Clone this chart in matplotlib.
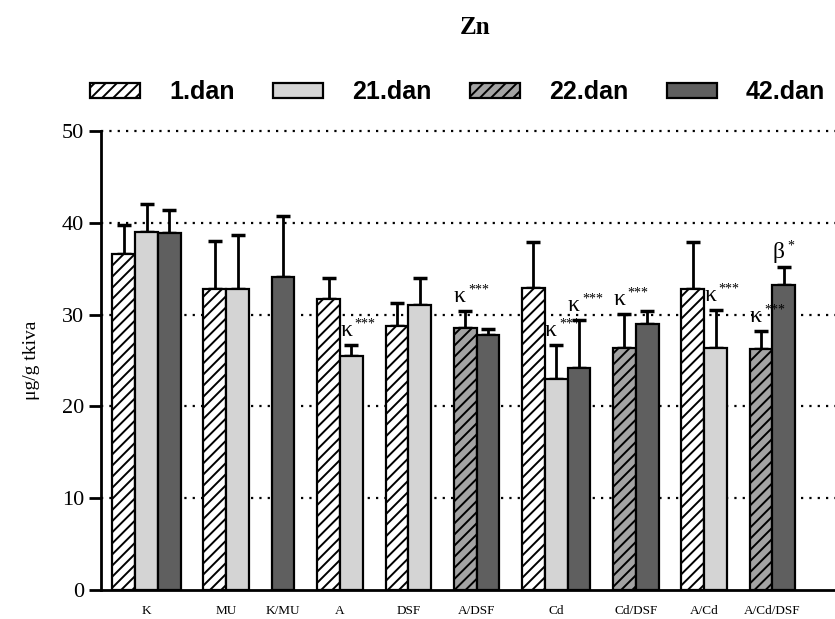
import numpy as np
import matplotlib.pyplot as plt
from matplotlib.patches import Patch

# ── Data ──────────────────────────────────────────────────────────────────────
GROUPS = ["K", "MU", "K/MU", "A", "DSF", "A/DSF", "Cd", "Cd/DSF", "A/Cd", "A/Cd/DSF"]
SERIES = ["1.dan", "21.dan", "22.dan", "42.dan"]

# mean values per group (None = not measured)
DAN1  = [36.6, 32.8, None, 31.7, 28.8, None, 32.9, None, 32.8, None]
DAN21 = [39.0, 32.8, None, 25.5, 31.0, None, 23.0, None, 26.3, None]
DAN22 = [None, None, None, None, None, 28.5, None, 26.4, None, 26.2]
DAN42 = [38.9, None, 34.1, None, None, 27.8, 24.2, 29.0, None, 33.2]

# upper error (SD)
ERR1  = [3.2, 5.2, None, 2.3, 2.5, None, 5.0, None, 5.1, None]
ERR21 = [3.0, 5.9, None, 1.2, 3.0, None, 3.7, None, 4.2, None]
ERR22 = [None, None, None, None, None, 1.9, None, 3.7, None, 2.0]
ERR42 = [2.5, None, 6.6, None, None, 0.6, 5.2, 1.4, None, 2.0]

# significance marks: (group, series, letter, stars)
MARKS = [
    ("A", "21.dan", "κ", "***"),
    ("A/DSF", "22.dan", "κ", "***"),
    ("Cd", "21.dan", "κ", "***"),
    ("Cd", "42.dan", "κ", "***"),
    ("Cd/DSF", "22.dan", "κ", "***"),
    ("A/Cd", "21.dan", "κ", "***"),
    ("A/Cd/DSF", "22.dan", "κ", "***"),
    ("A/Cd/DSF", "42.dan", "β", "*"),
]

VALUES = dict(zip(SERIES, [DAN1, DAN21, DAN22, DAN42]))
ERRORS = dict(zip(SERIES, [ERR1, ERR21, ERR22, ERR42]))

# ── Style ─────────────────────────────────────────────────────────────────────
STYLE = {
    "1.dan":  dict(facecolor="white",   hatch="///"),
    "21.dan": dict(facecolor="#d4d4d4", hatch=None),
    "22.dan": dict(facecolor="#a3a3a3", hatch="///"),
    "42.dan": dict(facecolor="#5f5f5f", hatch=None),
}

SERIF = "Liberation Serif"
plt.rcParams["hatch.linewidth"] = 1.4

fig = plt.figure(figsize=(8.35, 6.19), dpi=100)
ax = fig.add_axes([0.121, 0.047, 0.879, 0.7415])

# ── Bars (sequential layout, 1 unit gap between groups) ───────────────────────
pos = 1.0
centers = []
bar_x = {}
for gi, g in enumerate(GROUPS):
    xs = []
    for s in SERIES:
        v = VALUES[s][gi]
        if v is None:
            continue
        ax.bar(pos, v, width=1.0, edgecolor="black", linewidth=1.6,
               zorder=3, **STYLE[s])
        ax.errorbar(pos, v, yerr=[[0], [ERRORS[s][gi]]], fmt="none",
                    ecolor="black", elinewidth=2, capsize=5, capthick=2.5,
                    zorder=2)
        bar_x[(g, s)] = (pos, v + ERRORS[s][gi])
        xs.append(pos)
        pos += 1
    centers.append(np.mean(xs))
    pos += 1

for g, s, letter, stars in MARKS:
    x, top = bar_x[(g, s)]
    ax.text(x - 0.5, top + 0.4, letter, ha="left", va="bottom",
            fontsize=17, family=SERIF)
    ax.annotate(stars, (x - 0.5, top + 0.4), xytext=(10.5, 7.5),
                textcoords="offset points", ha="left", va="bottom",
                fontsize=10, family=SERIF)

# ── Axes ──────────────────────────────────────────────────────────────────────
ax.set_xlim(0, 32.25)
ax.set_ylim(0, 50)
ax.set_yticks(range(0, 51, 10))
ax.set_xticks(centers)
ax.set_xticklabels(GROUPS, fontsize=9.5, family=SERIF)
ax.tick_params(axis="x", length=0, pad=11)
ax.tick_params(axis="y", length=9, width=2, labelsize=16, pad=3)
for lab in ax.get_yticklabels():
    lab.set_family(SERIF)

for yv in range(10, 51, 10):
    ax.axhline(yv, color="black", linestyle=(0, (1, 2.75)), linewidth=1.6,
               zorder=1, clip_on=False)

ax.spines["top"].set_visible(False)
ax.spines["right"].set_visible(False)
ax.spines["left"].set_linewidth(2)
ax.spines["bottom"].set_linewidth(2)

ax.set_ylabel("μg/g tkiva", fontsize=14, family=SERIF, labelpad=16)

# ── Legend + title ────────────────────────────────────────────────────────────
handles = [Patch(edgecolor="black", linewidth=1.6, **STYLE[s]) for s in SERIES]
fig.legend(handles, SERIES, loc="center left", bbox_to_anchor=(0.081, 0.851),
           ncol=4, frameon=False, handlelength=2.0, handleheight=0.55,
           handletextpad=1.15, columnspacing=1.55, borderpad=0.4,
           prop=dict(family="Liberation Sans", weight="bold", size=18))

fig.text(0.569, 0.956, "Zn", ha="center", va="center", fontsize=18,
         fontweight="bold", family=SERIF)

plt.savefig("out.png", dpi=100)
